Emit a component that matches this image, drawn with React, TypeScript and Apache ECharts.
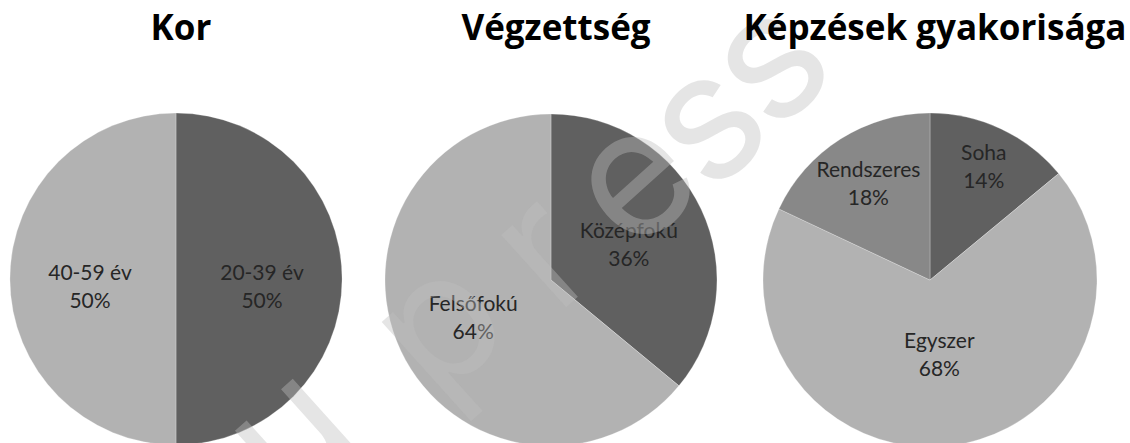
import React, { useEffect, useRef } from "react";
import * as echarts from "echarts";

const titles = ["Kor", "Végzettség", "Képzések gyakorisága"];
const ageNames = ["20-39 év", "40-59 év"];
const ageValues = [50, 50];
const eduNames = ["Középfokú", "Felsőfokú"];
const eduValues = [36, 64];
const freqNames = ["Soha", "Egyszer", "Rendszeres"];
const freqValues = [14, 68, 18];
const watermarkLetters = ["u", "p", "r", "e", "s", "s"];

const DARK = "#606060";
const LIGHT = "#b2b2b2";
const MID = "#888888";

const W = 1130;
const H = 443;
const centers = [
  [176, 279],
  [551, 280],
  [930, 280],
];
const radii = [166, 166, 167];
const colors = [
  [DARK, LIGHT],
  [DARK, LIGHT],
  [DARK, LIGHT, MID],
];
const labelFactors = [
  [1, 1],
  [1, 1],
  [1.46, 0.86, 1.33],
];
const labelShiftY = [6, 0, 0];
// watermark letter centres (decoration, not data)
const wmPos = [
  [300, 445],
  [448, 335],
  [552, 262],
  [642, 190],
  [715, 133],
  [778, 72],
];
const WM_SIZE = 178;
const WM_ROT = 42;

export default function App() {
  const ref = useRef<HTMLDivElement>(null);
  useEffect(() => {
    if (!ref.current) return;
    const chart = echarts.init(ref.current, null, { renderer: "svg" });
    const sets = [
      [ageNames, ageValues],
      [eduNames, eduValues],
      [freqNames, freqValues],
    ] as [string[], number[]][];
    const series = sets.map(([names, values], si) => ({
      type: "pie",
      center: [centers[si][0], centers[si][1]],
      radius: [0, radii[si]],
      startAngle: 90,
      clockwise: true,
      silent: true,
      itemStyle: { borderColor: "rgba(255,255,255,0.25)", borderWidth: 1 },
      label: {
        show: true,
        position: "inside",
        formatter: "{b}\n{c}%",
        fontFamily: "Lato",
        fontSize: 21,
        lineHeight: 28,
        color: "#262626",
      },
      labelLine: { show: false },
      labelLayout: (p: any) => {
        const f = labelFactors[si][p.dataIndex] ?? 1;
        const [cx, cy] = centers[si];
        const r = p.labelRect;
        const lx = r.x + r.width / 2;
        const ly = r.y + r.height / 2;
        return {
          x: cx + (lx - cx) * f,
          y: cy + (ly - cy) * f + labelShiftY[si],
          align: "center",
          verticalAlign: "middle",
        };
      },
      data: names.map((n, i) => ({
        name: n,
        value: values[i],
        itemStyle: { color: colors[si][i] },
      })),
    }));
    const rot = (WM_ROT * Math.PI) / 180;
    const shift = 0.12 * WM_SIZE;
    const graphic = watermarkLetters.map((ch, i) => ({
      type: "text",
      x: wmPos[i][0] - shift * Math.sin(rot),
      y: wmPos[i][1] - shift * Math.cos(rot),
      rotation: rot,
      z: 5,
      silent: true,
      style: {
        text: ch,
        fontFamily: "Inter",
        fontWeight: 400,
        fontSize: WM_SIZE,
        fill: "rgba(190,190,190,0.4)",
        textAlign: "center",
        textVerticalAlign: "middle",
      },
    }));
    chart.setOption({
      animation: false,
      backgroundColor: "#ffffff",
      title: titles.map((t, i) => ({
        text: t,
        left: centers[i][0],
        top: 4,
        z: 8,
        textAlign: "center",
        textStyle: {
          fontFamily: "Open Sans",
          fontWeight: "bold",
          fontSize: 35,
          color: "#000000",
        },
      })),
      series,
      graphic,
    });
    return () => chart.dispose();
  }, []);
  return (
    <div
      ref={ref}
      style={{ position: "fixed", left: 0, top: 0, width: W, height: H }}
    />
  );
}
